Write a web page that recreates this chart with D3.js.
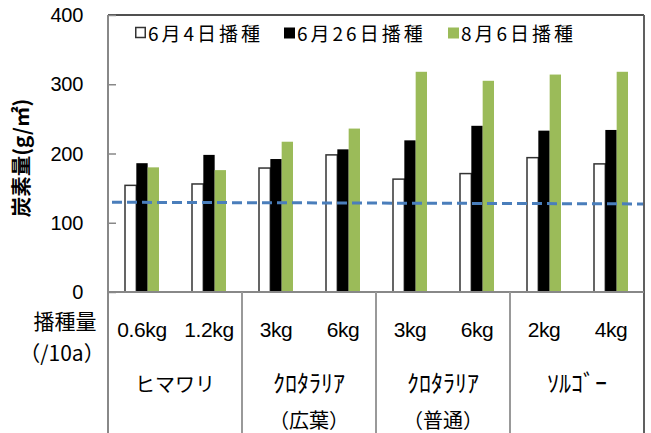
<!DOCTYPE html>
<html>
<head>
<meta charset="utf-8">
<script src="https://cdn.jsdelivr.net/npm/d3@7"></script>
<style>
  body { margin: 0; background: #fff; }
  text { fill: #000; }
</style>
</head>
<body>
<svg id="chart" width="651" height="433"></svg>
<script>
// Seeding rate per plot (kg / 10a)
const categories = ["0.6kg", "1.2kg", "3kg", "6kg", "3kg", "6kg", "2kg", "4kg"];
// Crop groups, two categories each (second line is a sub-label)
const crops = [["ヒマワリ"], ["ｸﾛﾀﾗﾘｱ", "（広葉）"], ["ｸﾛﾀﾗﾘｱ", "（普通）"], ["ｿﾙｺﾞｰ"]];
const seriesNames = ["6月4日播種", "6月26日播種", "8月6日播種"];
// Carbon amount (g/m2) by sowing date
const june4 = [154, 156, 179, 198, 163, 171, 194, 185];
const june26 = [186, 198, 192, 206, 219, 240, 233, 234];
const aug6 = [180, 176, 217, 236, 318, 305, 314, 318];
const yTicks = [0, 100, 200, 300, 400];
// Reference level (start, end) drawn as a dashed line
const refLine = [129.6, 127.2];

const series = [june4, june26, aug6];
const fills = ["#ffffff", "#000000", "#9bbb59"];
const strokes = ["#333333", "none", "none"];

const svg = d3.select("#chart");
const jpFont = "'Noto Sans CJK JP', sans-serif";
const latinFont = "'Liberation Sans', Arial, sans-serif";

const plotL = 108, plotR = 644, plotT = 15, plotB = 292;

const y = d3.scaleLinear().domain([0, 400]).range([plotB, plotT]);
const x = d3.scaleBand().domain(d3.range(categories.length)).range([plotL, plotR]);
const groupW = 34;
const xs = d3.scaleBand().domain(d3.range(series.length)).range([0, groupW]);

// Bars
series.forEach((vals, s) => {
  svg.append("g").selectAll("rect")
    .data(vals)
    .join("rect")
    .attr("x", (d, i) => x(i) + x.bandwidth() / 2 - groupW / 2 + 0.5 + xs(s))
    .attr("y", d => y(d))
    .attr("width", xs.bandwidth())
    .attr("height", d => plotB - y(d))
    .attr("fill", fills[s])
    .attr("stroke", strokes[s])
    .attr("stroke-width", 1.5);
});

// Dashed reference line
const refX = d3.scaleLinear().domain([0, 1]).range([plotL + 4, plotR]);
svg.append("path")
  .datum(refLine)
  .attr("d", d3.line().x((d, i) => refX(i)).y(d => y(d)))
  .attr("fill", "none")
  .attr("stroke", "#4a7ebb")
  .attr("stroke-width", 3)
  .attr("stroke-dasharray", "10,5");

// Frame: top and right borders
svg.append("line").attr("x1", plotL).attr("x2", plotR).attr("y1", plotT).attr("y2", plotT)
  .attr("stroke", "#505050").attr("stroke-width", 2);
svg.append("line").attr("x1", plotR).attr("x2", plotR).attr("y1", plotT).attr("y2", 433)
  .attr("stroke", "#606060").attr("stroke-width", 2);

// Y axis with inner ticks
const yAxis = d3.axisRight(y).tickValues(yTicks).tickSize(8).tickFormat("");
const yg = svg.append("g").attr("transform", `translate(${plotL},0)`).call(yAxis);
yg.select(".domain").remove();
yg.selectAll(".tick line").attr("stroke", "#888").attr("stroke-width", 1.5);
svg.append("line").attr("x1", plotL).attr("x2", plotL).attr("y1", plotT).attr("y2", 433)
  .attr("stroke", "#888").attr("stroke-width", 2);

svg.append("g").selectAll("text")
  .data(yTicks)
  .join("text")
  .attr("x", 83)
  .attr("y", d => y(d))
  .attr("dy", "0.36em")
  .attr("text-anchor", "end")
  .attr("font-family", latinFont)
  .attr("font-size", 20)
  .attr("letter-spacing", -0.3)
  .text(d => d);

// Y axis title
svg.append("text")
  .attr("transform", "translate(29,158) rotate(-90)")
  .attr("text-anchor", "middle")
  .attr("font-family", jpFont)
  .attr("font-weight", "bold")
  .attr("font-size", 20.5)
  .text("炭素量(g/㎡)");

// X axis line and table grid below
svg.append("line").attr("x1", plotL).attr("x2", plotR).attr("y1", plotB).attr("y2", plotB)
  .attr("stroke", "#888").attr("stroke-width", 2);
svg.append("g").selectAll("line")
  .data(d3.range(1, crops.length))
  .join("line")
  .attr("x1", g => x(g * 2)).attr("x2", g => x(g * 2))
  .attr("y1", plotB).attr("y2", 433)
  .attr("stroke", "#999").attr("stroke-width", 2);

// Seeding-rate labels
svg.append("g").selectAll("text")
  .data(categories)
  .join("text")
  .attr("x", (d, i) => x(i) + x.bandwidth() / 2 + 0.5)
  .attr("y", 337)
  .attr("text-anchor", "middle")
  .attr("font-family", latinFont)
  .attr("font-size", 21)
  .attr("letter-spacing", -0.4)
  .text(d => d);

// Crop names
crops.forEach((lines, g) => {
  const cx = x(g * 2) + x.bandwidth();
  lines.forEach((t, k) => {
    const half = /[\uFF61-\uFF9F]/.test(t);
    svg.append("text")
      .attr("x", cx)
      .attr("y", k === 0 ? 392 : 428)
      .attr("text-anchor", "middle")
      .attr("font-family", jpFont)
      .attr("font-size", half ? 24 : 20)
      .text(t);
  });
});

// Row header for the table
svg.append("text").attr("x", 65).attr("y", 329).attr("text-anchor", "middle")
  .attr("font-family", jpFont).attr("font-size", 21).text("播種量");
svg.append("text").attr("x", 62).attr("y", 361).attr("text-anchor", "middle")
  .attr("font-family", jpFont).attr("font-size", 21).text("（/10a）");

// Legend
const legendX = [135, 284, 448];
const legend = svg.append("g").selectAll("g")
  .data(seriesNames)
  .join("g")
  .attr("transform", (d, i) => `translate(${legendX[i]},0)`);
legend.append("rect")
  .attr("x", (d, i) => i === 0 ? 0.75 : 0)
  .attr("y", 27.5)
  .attr("width", (d, i) => i === 0 ? 9.5 : 11)
  .attr("height", (d, i) => i === 0 ? 10 : 11)
  .attr("fill", (d, i) => fills[i])
  .attr("stroke", (d, i) => i === 0 ? "#333" : "none")
  .attr("stroke-width", 1.5);
legend.append("text")
  .attr("x", 13)
  .attr("y", 41)
  .attr("font-family", jpFont)
  .attr("font-size", 19)
  .attr("letter-spacing", 3)
  .text(d => d);
</script>
</body>
</html>
